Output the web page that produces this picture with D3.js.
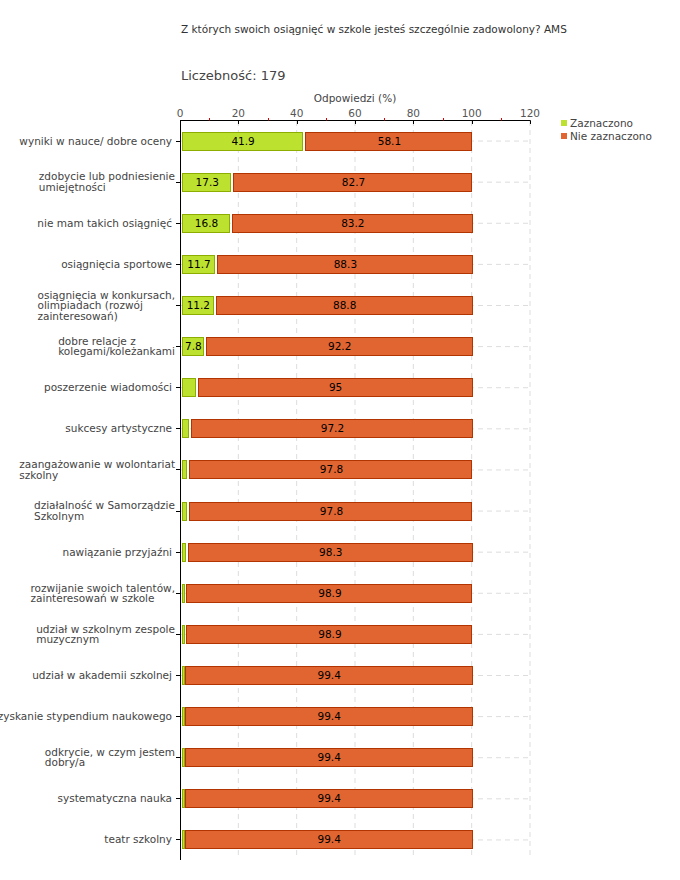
<!DOCTYPE html>
<html><head><meta charset="utf-8">
<script src="https://cdn.jsdelivr.net/npm/d3@7"></script>
<style>
body{margin:0;background:#fff;}
text{font-family:"DejaVu Sans",Verdana,sans-serif;}
</style></head>
<body><svg id="c" width="680" height="880"></svg>
<script>
const title = "Z których swoich osiągnięć w szkole jesteś szczególnie zadowolony? AMS";
const countLabel = "Liczebność: 179";
const axisTitle = "Odpowiedzi (%)";
const categories = [
 "wyniki w nauce/ dobre oceny",
 "zdobycie lub podniesienie\numiejętności",
 "nie mam takich osiągnięć",
 "osiągnięcia sportowe",
 "osiągnięcia w konkursach,\nolimpiadach (rozwój\nzainteresowań)",
 "dobre relacje z\nkolegami/koleżankami",
 "poszerzenie wiadomości",
 "sukcesy artystyczne",
 "zaangażowanie w wolontariat\nszkolny",
 "działalność w Samorządzie\nSzkolnym",
 "nawiązanie przyjaźni",
 "rozwijanie swoich talentów,\nzainteresowań w szkole",
 "udział w szkolnym zespole\nmuzycznym",
 "udział w akademii szkolnej",
 "uzyskanie stypendium naukowego",
 "odkrycie, w czym jestem\ndobry/a",
 "systematyczna nauka",
 "teatr szkolny"
];
const seriesNames = ["Zaznaczono", "Nie zaznaczono"];
const zaznaczono = [41.9,17.3,16.8,11.7,11.2,7.8,5,2.8,2.2,2.2,1.7,1.1,1.1,0.6,0.6,0.6,0.6,0.6];
const nieZaznaczono = [58.1,82.7,83.2,88.3,88.8,92.2,95,97.2,97.8,97.8,98.3,98.9,98.9,99.4,99.4,99.4,99.4,99.4];
const majorTicks = [0,20,40,60,80,100,120];
const minorTicks = [10,30,50,70,90,110];
const fills = ["#bde12f","#e06531"];
const strokes = ["#8dae00","#b23400"];

const svg = d3.select("#c");
const x = d3.scaleLinear().domain([0,120]).range([180,530]);
const y = d3.scaleBand().domain(d3.range(categories.length)).range([120,860]);

svg.append("text").attr("x",181).attr("y",33).attr("font-size",10.5).attr("fill","#333").text(title);
svg.append("text").attr("x",181).attr("y",80).attr("font-size",13).attr("fill","#444").text(countLabel);
svg.append("text").attr("x",(x(0)+x(120))/2).attr("y",102).attr("text-anchor","middle").attr("font-size",10.5).attr("fill","#444").text(axisTitle);

// grid
svg.append("g").selectAll("line").data(majorTicks.slice(1)).join("line")
 .attr("x1",d=>x(d)).attr("x2",d=>x(d)).attr("y1",121).attr("y2",858)
 .attr("stroke","#ddd").attr("stroke-dasharray","5,4");
svg.append("g").selectAll("line").data(categories.map((c,i)=>i)).join("line")
 .attr("x1",x(0)+1).attr("x2",x(120)).attr("y1",i=>y(i)+y.bandwidth()/2+0.5).attr("y2",i=>y(i)+y.bandwidth()/2+0.5)
 .attr("stroke","#ddd").attr("stroke-dasharray","5,4");

// top axis
const ax = svg.append("g").attr("transform","translate(0,120.5)");
ax.append("line").attr("x1",x(0)).attr("x2",x(120)+0.5).attr("stroke","#000");
ax.selectAll(".mj").data(majorTicks).join("line").attr("class","mj")
 .attr("x1",d=>Math.round(x(d))+0.5).attr("x2",d=>Math.round(x(d))+0.5).attr("y1",0).attr("y2",3.5).attr("stroke","#000");
ax.selectAll(".mn").data(minorTicks).join("line").attr("class","mn")
 .attr("x1",d=>Math.round(x(d))+0.5).attr("x2",d=>Math.round(x(d))+0.5).attr("y1",-2.5).attr("y2",0).attr("stroke","#e00000");
ax.selectAll("text").data(majorTicks).join("text")
 .attr("x",d=>x(d)).attr("y",-4).attr("text-anchor","middle").attr("font-size",10.5).attr("fill","#555").text(d=>d);

// left axis
svg.append("line").attr("x1",180.5).attr("x2",180.5).attr("y1",120).attr("y2",860).attr("stroke","#000");
svg.append("g").selectAll("line").data(categories.map((c,i)=>i)).join("line")
 .attr("x1",176).attr("x2",180).attr("y1",i=>Math.round(y(i)+y.bandwidth()/2)+0.5).attr("y2",i=>Math.round(y(i)+y.bandwidth()/2)+0.5).attr("stroke","#000");

// category labels
const lab = svg.append("g");
categories.forEach((c,i)=>{
  const lines = c.split("\n");
  const cy = y(i)+y.bandwidth()/2;
  const lh = 10.5;
  const t = lab.append("text").attr("font-size",10.5).attr("fill","#444");
  lines.forEach((l,k)=>{
    t.append("tspan").attr("x",0).attr("y",cy + (k-(lines.length-1)/2)*lh + 4).text(l);
  });
  if(lines.length===1){
    t.selectAll("tspan").attr("x",172).attr("text-anchor","end");
  } else {
    const w = d3.max(t.selectAll("tspan").nodes(),n=>n.getComputedTextLength());
    t.selectAll("tspan").attr("x",175-w);
  }
});

// bars
const bh = 18;
const rows = categories.map((c,i)=>({i, v:[zaznaczono[i], nieZaznaczono[i]]}));
const bars = svg.append("g");
rows.forEach(r=>{
  let start = 0;
  r.v.forEach((v,s)=>{
    const x0 = x(start) + (s===0?2:3);
    const x1 = x(start+v);
    const w = Math.max(1.5, x1-x0);
    const cy = y(r.i)+y.bandwidth()/2;
    bars.append("rect").attr("x",Math.round(x0)+0.5).attr("y",Math.round(cy-bh/2)+0.5)
      .attr("width",Math.round(w)).attr("height",bh)
      .attr("fill",fills[s]).attr("stroke",strokes[s]).attr("stroke-width",1);
    if(v>=7){
      bars.append("text").attr("x",(x0+x1)/2+1).attr("y",cy+4).attr("text-anchor","middle")
        .attr("font-size",10.5).attr("fill","#000").text(v);
    }
    start += v;
  });
});

// legend
const lg = svg.append("g");
seriesNames.forEach((n,k)=>{
  lg.append("rect").attr("x",561).attr("y",120+k*13).attr("width",6).attr("height",6).attr("fill",fills[k]);
  lg.append("text").attr("x",570).attr("y",127+k*13).attr("font-size",10.5).attr("fill","#444").text(n);
});
</script></body></html>
